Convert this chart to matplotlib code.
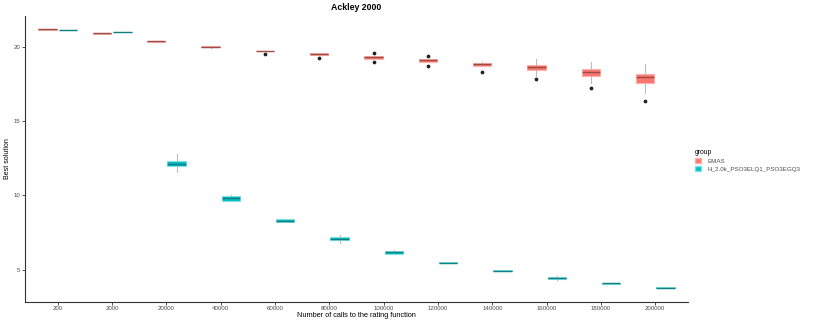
import matplotlib
matplotlib.use("Agg")
import matplotlib.pyplot as plt
from matplotlib.patches import Patch

plt.rcParams['font.family'] = ['Liberation Sans', 'DejaVu Sans']

# Kategorie osi X
calls = ['200', '2000', '20000', '40000', '60000', '80000', '100000',
         '120000', '140000', '160000', '180000', '200000']

# EMAS: wąsy, kwartyle, mediana, odstające
emas_whislo = [21.15, 20.88, 20.34, 19.94, 19.68, 19.42, 19.20, 18.98, 18.72, 18.03, 17.55, 16.90]
emas_q1 = [21.15, 20.88, 20.34, 19.95, 19.68, 19.42, 19.20, 19.00, 18.72, 18.44, 18.03, 17.58]
emas_med = [21.16, 20.89, 20.35, 19.98, 19.70, 19.48, 19.28, 19.08, 18.85, 18.60, 18.30, 17.95]
emas_q3 = [21.17, 20.90, 20.37, 20.02, 19.73, 19.56, 19.38, 19.15, 18.93, 18.77, 18.48, 18.17]
emas_whishi = [21.17, 20.90, 20.37, 20.04, 19.73, 19.56, 19.38, 19.18, 18.95, 19.15, 19.00, 18.82]
emas_fliers = [[], [], [], [], [19.50], [19.22], [19.60, 19.00], [19.40, 18.68], [18.32], [17.80], [17.20], [16.38]]

# H_2.0k_PSO3ELQ1_PSO3EGQ3
h_whislo = [21.10, 20.95, 11.55, 9.60, 8.22, 6.80, 6.05, 5.43, 4.90, 4.35, 4.08, 3.78]
h_q1 = [21.10, 20.95, 11.96, 9.62, 8.22, 6.98, 6.07, 5.43, 4.90, 4.40, 4.08, 3.78]
h_med = [21.11, 20.96, 12.08, 9.80, 8.30, 7.10, 6.20, 5.47, 4.94, 4.48, 4.10, 3.80]
h_q3 = [21.12, 20.98, 12.30, 9.98, 8.42, 7.23, 6.30, 5.50, 4.98, 4.55, 4.12, 3.82]
h_whishi = [21.12, 20.98, 12.80, 10.00, 8.42, 7.37, 6.33, 5.50, 4.98, 4.60, 4.12, 3.82]
h_fliers = [[] for _ in calls]

groups = ['EMAS', 'H_2.0k_PSO3ELQ1_PSO3EGQ3']
fills = ['#F8766D', '#00BFC4']
edges = ['#FBB0AA', '#80DFE2']
medians = ['#9E4A45', '#0E7F83']


def stats(lo, q1, med, q3, hi, fl):
    return [dict(whislo=a, q1=b, med=c, q3=d, whishi=e, fliers=f)
            for a, b, c, d, e, f in zip(lo, q1, med, q3, hi, fl)]


all_stats = [
    stats(emas_whislo, emas_q1, emas_med, emas_q3, emas_whishi, emas_fliers),
    stats(h_whislo, h_q1, h_med, h_q3, h_whishi, h_fliers),
]

fig = plt.figure(figsize=(8.14, 3.26), dpi=100)
ax = fig.add_axes([0.031, 0.075, 0.814, 0.876])

x = range(1, len(calls) + 1)
for k, st in enumerate(all_stats):
    off = -0.1875 if k == 0 else 0.1875
    ax.bxp(st, positions=[i + off for i in x], widths=0.34, patch_artist=True,
           showcaps=False,
           boxprops=dict(facecolor=fills[k], edgecolor=edges[k], linewidth=0.8),
           medianprops=dict(color=medians[k], linewidth=1.0),
           whiskerprops=dict(color='#BBBBBB', linewidth=0.8),
           flierprops=dict(marker='o', markersize=1.7, markerfacecolor='#222222',
                           markeredgecolor='#222222'),
           manage_ticks=False)

ax.set_xlim(0.4, 12.6)
ax.set_ylim(2.87, 22.06)
ax.set_xticks(list(x))
ax.set_xticklabels(calls)
ax.set_yticks([5, 10, 15, 20])

for s in ['top', 'right']:
    ax.spines[s].set_visible(False)
for s in ['left', 'bottom']:
    ax.spines[s].set_color('#333333')
    ax.spines[s].set_linewidth(0.8)
ax.tick_params(axis='both', labelsize=4.4, colors='#333333', length=2.0, width=0.6,
               labelcolor='#4D4D4D', pad=1.5)

ax.set_xlabel('Number of calls to the rating function', fontsize=5.3)
ax.xaxis.set_label_coords(0.5, -0.038)
ax.set_ylabel('Best solution', fontsize=5.0)
ax.yaxis.set_label_coords(-0.021, 0.5)
ax.set_title('Ackley 2000', fontsize=6.3, fontweight='bold', pad=4)

handles = [Patch(facecolor=fills[k], edgecolor=edges[k], label=groups[k]) for k in range(2)]
leg = fig.legend(handles=handles, title='group', loc='upper left',
                 bbox_to_anchor=(0.851, 0.552), frameon=False, fontsize=4.5,
                 title_fontsize=4.9, handlelength=1.0, handleheight=0.9,
                 handletextpad=0.9, labelspacing=0.4, borderaxespad=0)
leg._legend_box.align = 'left'
for t in leg.get_texts():
    t.set_color('#4D4D4D')

fig.savefig('out.png', dpi=100)
